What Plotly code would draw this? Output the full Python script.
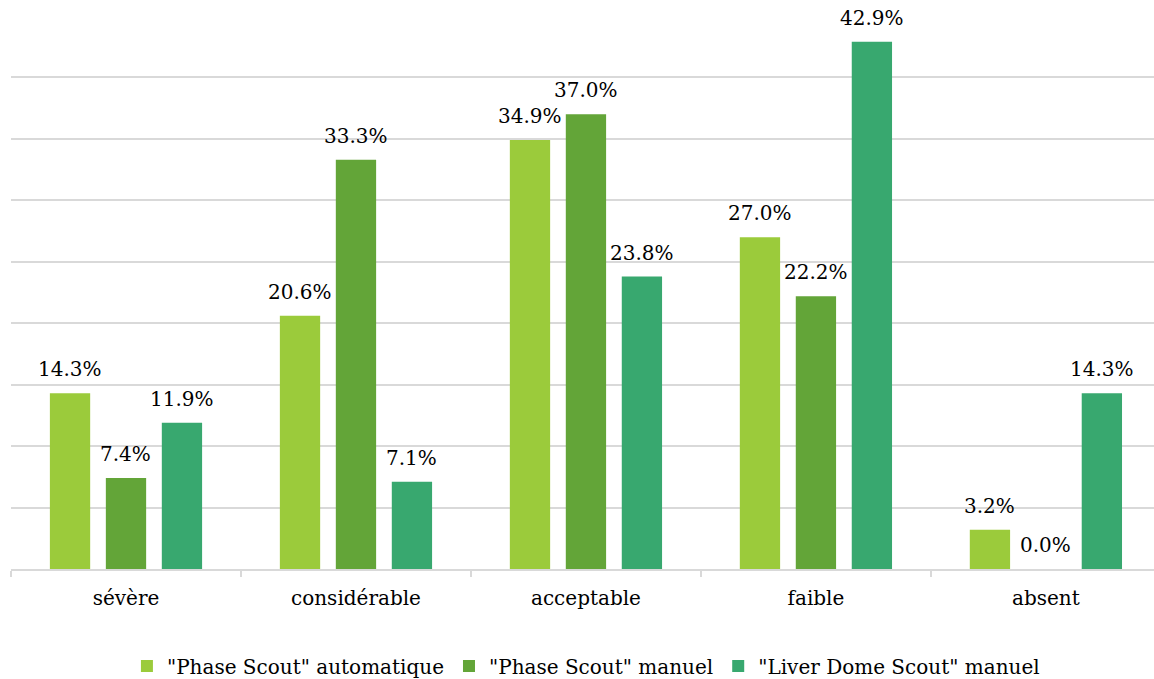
import plotly.graph_objects as go

categories = ["sévère", "considérable", "acceptable", "faible", "absent"]
series_names = [
    '"Phase Scout" automatique',
    '"Phase Scout" manuel',
    '"Liver Dome Scout" manuel',
]
phase_auto = [14.3, 20.6, 34.9, 27.0, 3.2]
phase_manuel = [7.4, 33.3, 37.0, 22.2, 0.0]
liver_dome = [11.9, 7.1, 23.8, 42.9, 14.3]

colors = ["#9BCB3B", "#63A538", "#38A86F"]
FONT = "DejaVu Serif, serif"
BARGAP = 0.27
BARGROUPGAP = 0.28

series = [phase_auto, phase_manuel, liver_dome]

fig = go.Figure()
for name, vals, col in zip(series_names, series, colors):
    fig.add_trace(go.Bar(
        x=categories, y=vals, name=name,
        marker=dict(color=col, line=dict(width=0)),
        hoverinfo="skip",
    ))

# value labels above each bar, centred on its slot within the group
# (category axis: position i is the i-th category)
slot = (1 - BARGAP) / len(series)
annotations = []
for k, vals in enumerate(series):
    off = (k - (len(series) - 1) / 2) * slot
    for i, v in enumerate(vals):
        annotations.append(dict(
            x=i + off, y=v, xref="x", yref="y",
            text=f"{v:.1f}%", showarrow=False,
            yanchor="bottom", yshift=10,
            font=dict(family=FONT, size=20, color="#000000"),
        ))

fig.update_layout(
    width=1154, height=679,
    margin=dict(l=11, r=0, t=16, b=110, autoexpand=False),
    paper_bgcolor="white", plot_bgcolor="white",
    barmode="group", bargap=BARGAP, bargroupgap=BARGROUPGAP,
    font=dict(family=FONT, size=20, color="#000000"),
    showlegend=True,
    legend=dict(
        orientation="h", x=0.503, xanchor="center",
        yref="container", y=0.019, yanchor="middle",
        font=dict(family=FONT, size=20), itemwidth=30,
        traceorder="normal",
    ),
    annotations=annotations,
    xaxis=dict(
        type="category", categoryorder="array", categoryarray=categories,
        range=[-0.5, len(categories) - 0.53],
        showline=True, linecolor="#d9d9d9", linewidth=1.5,
        ticks="outside", tickson="boundaries", ticklen=6,
        tickcolor="#d9d9d9", tickwidth=1.5,
        ticklabelstandoff=10,
        showgrid=False, zeroline=False,
        tickfont=dict(family=FONT, size=20),
    ),
    yaxis=dict(
        range=[0, 45], dtick=5, showticklabels=False,
        showgrid=True, gridcolor="#d9d9d9", gridwidth=1.5,
        zeroline=False, showline=False,
    ),
)

fig.write_html("out.html")
